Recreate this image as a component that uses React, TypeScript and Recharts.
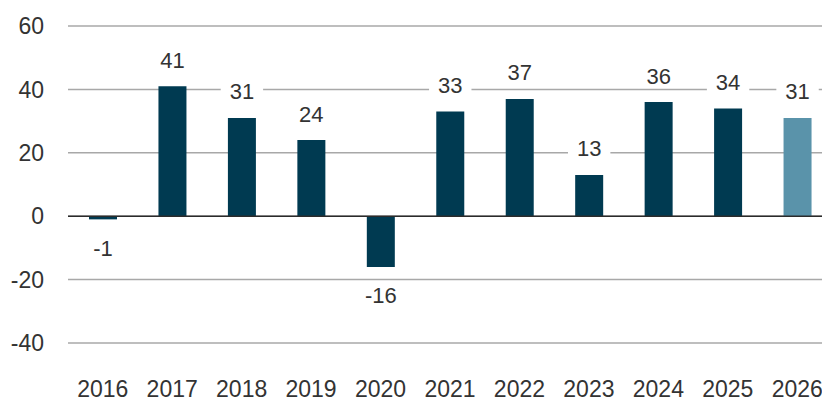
import React from 'react'
import { BarChart, Bar, XAxis, YAxis, CartesianGrid, ReferenceLine, LabelList, Cell } from 'recharts'

// years and values
const years = ['2016', '2017', '2018', '2019', '2020', '2021', '2022', '2023', '2024', '2025', '2026']
const values = [-1, 41, 31, 24, -16, 33, 37, 13, 36, 34, 31]
const yTicks = [-40, -20, 0, 20, 40, 60]

const DARK = '#003a51'
const LIGHT = '#5a93aa'
const FONT = '"Liberation Sans", Arial, sans-serif'
const TEXT = '#333333'

const data = years.map((year, i) => ({ year, value: values[i] }))

function ValueLabel(props: any) {
  const { x, y, width, height, value } = props
  const top = Math.min(y, y + height)
  const bottom = Math.max(y, y + height)
  const cx = x + width / 2
  const cy = value >= 0 ? top - 26 : bottom + 29
  const label = String(value)
  const w = label.length * 12.2 + 18
  return (
    <g>
      <rect x={cx - w / 2} y={cy - 12} width={w} height={24} fill='#ffffff' />
      <text
        x={cx}
        y={cy}
        textAnchor='middle'
        dominantBaseline='central'
        fontFamily={FONT}
        fontSize={22}
        fill={TEXT}
      >
        {label}
      </text>
    </g>
  )
}

export default function App() {
  return (
    <div style={{ position: 'fixed', left: 0, top: 0, width: 822, height: 403, overflow: 'hidden', background: '#fff' }}>
      <BarChart
        width={832}
        height={403}
        data={data}
        margin={{ top: 26, right: 0, left: 0, bottom: 0 }}
        barCategoryGap={0}
      >
        <CartesianGrid vertical={false} stroke='#a8a8a8' strokeWidth={1.5} />
        <XAxis
          dataKey='year'
          axisLine={false}
          tickLine={false}
          tickSize={0}
          tickMargin={38}
          height={60}
          interval={0}
          tick={{ fontFamily: FONT, fontSize: 23, fill: TEXT }}
        />
        <YAxis
          domain={[-40, 60]}
          ticks={yTicks}
          axisLine={false}
          tickLine={false}
          tickSize={0}
          tickMargin={24}
          width={68}
          tick={{ fontFamily: FONT, fontSize: 23, fill: TEXT }}
        />
        <ReferenceLine y={0} stroke='#2b2b2b' strokeWidth={1.5} />
        <Bar dataKey='value' barSize={28} isAnimationActive={false}>
          {data.map((d, i) => (
            <Cell key={d.year} fill={i === data.length - 1 ? LIGHT : DARK} />
          ))}
          <LabelList dataKey='value' content={ValueLabel} />
        </Bar>
      </BarChart>
    </div>
  )
}
